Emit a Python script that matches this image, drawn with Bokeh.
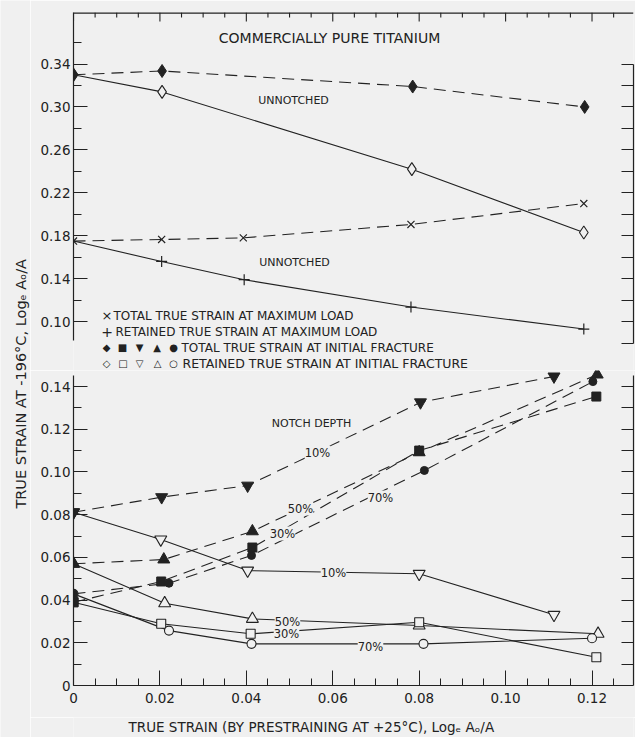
import math
from bokeh.plotting import figure
from bokeh.layouts import row, column
from bokeh.models import (Range1d, LinearAxis, FixedTicker,
                          Label, Span, CustomJSTickFormatter)
from bokeh.embed import file_html
from bokeh.resources import INLINE

# ---------------- data ----------------
# Upper panel: unnotched specimens
unn_x_total = [0.0, 0.0205, 0.0785, 0.1183]
unn_total_fracture = [0.330, 0.3335, 0.319, 0.300]
unn_x_ret = [0.0, 0.0205, 0.0783, 0.1181]
unn_retained_fracture = [0.330, 0.314, 0.242, 0.183]

maxload_x_total = [0.0, 0.0204, 0.0393, 0.0781, 0.1181]
maxload_total = [0.175, 0.1765, 0.178, 0.1905, 0.210]
maxload_x_ret = [0.0, 0.0204, 0.0395, 0.0781, 0.1181]
maxload_retained = [0.175, 0.156, 0.139, 0.1135, 0.093]

# Lower panel: notched specimens (notch depth 10, 30, 50, 70 %)
n10_x_total = [0.0, 0.0204, 0.0403, 0.0803, 0.1112]
n10_total = [0.0811, 0.0882, 0.0936, 0.1326, 0.1447]
n10_x_ret = [0.0, 0.0202, 0.0403, 0.0800, 0.1112]
n10_ret = [0.0811, 0.0684, 0.0538, 0.0523, 0.0331]

n50_x_total = [0.0, 0.0209, 0.0414, 0.0800, 0.1212]
n50_total = [0.0570, 0.0590, 0.0722, 0.1092, 0.1456]
n50_x_ret = [0.0, 0.0211, 0.0414, 0.0800, 0.1214]
n50_ret = [0.0570, 0.0385, 0.0312, 0.0281, 0.0242]

n30_x_total = [0.0, 0.0203, 0.0414, 0.0800, 0.1210]
n30_total = [0.0390, 0.0487, 0.0646, 0.1100, 0.1353]
n30_x_ret = [0.0, 0.0203, 0.0410, 0.0800, 0.1210]
n30_ret = [0.0390, 0.0289, 0.0242, 0.0296, 0.0132]

n70_x_total = [0.0, 0.0221, 0.0412, 0.0812, 0.1202]
n70_total = [0.0429, 0.0479, 0.0609, 0.1007, 0.1423]
n70_x_ret = [0.0, 0.0221, 0.0412, 0.0810, 0.1200]
n70_ret = [0.0429, 0.0257, 0.0195, 0.0195, 0.0221]

x_major_ticks = [0.0, 0.02, 0.04, 0.06, 0.08, 0.10, 0.12]
x_minor_ticks = [0.005, 0.010, 0.015, 0.025, 0.030, 0.035, 0.045, 0.050, 0.055,
                 0.065, 0.070, 0.075, 0.085, 0.090, 0.095, 0.105, 0.110, 0.115, 0.125]
top_ticks = [0.10, 0.14, 0.18, 0.22, 0.26, 0.30, 0.34]
top_minor = [0.12, 0.16, 0.20, 0.24, 0.28, 0.32, 0.36]
top_right_ticks = [0.08, 0.10, 0.12, 0.14, 0.16, 0.18, 0.20, 0.22, 0.24, 0.26, 0.28, 0.30, 0.32, 0.34]
bottom_ticks = [0.0, 0.02, 0.04, 0.06, 0.08, 0.10, 0.12, 0.14]
bottom_minor = [0.01, 0.03, 0.05, 0.07, 0.09, 0.11, 0.13]
bottom_right_ticks = [0.01, 0.02, 0.03, 0.04, 0.05, 0.06, 0.07, 0.08, 0.09, 0.10, 0.11, 0.12, 0.13, 0.14]

# ---------------- styling ----------------
BG = "#f0f0f0"
INK = "#222222"
FONT = "DejaVu Sans"
DASH = "12 7"
LW = 1.1
LEFT_W = 30          # width of the strip holding the vertical axis title
FX = 73              # page x of the frame's left edge
PW = 635 - LEFT_W    # width of the panel column
TOP_Y = 0.388        # value at the top edge of the upper panel

fmt = CustomJSTickFormatter(code="return tick == 0 ? '0' : tick.toFixed(2);")
blank = CustomJSTickFormatter(code="return '';")

xr = Range1d(0, 0.1296)


def plain_fig(width, height, xrange, yrange, left=0, right=0, top=0, bottom=0):
    f = figure(width=width, height=height, output_backend="svg", toolbar_location=None,
               x_range=xrange, y_range=yrange, x_axis_location=None, y_axis_location=None,
               min_border_left=left, min_border_right=right,
               min_border_top=top, min_border_bottom=bottom)
    f.background_fill_color = BG
    f.border_fill_color = BG
    f.outline_line_color = None
    f.grid.visible = False
    f.title.visible = False
    return f


def style_axis(ax):
    ax.axis_line_color = INK
    ax.major_tick_line_color = INK
    ax.minor_tick_line_color = INK
    ax.axis_line_width = 1.2
    ax.major_tick_out = 0
    ax.minor_tick_out = 0
    ax.major_label_text_font = FONT
    ax.major_label_text_font_size = "13.5px"
    ax.major_label_text_color = INK


def y_axes(f, ticks, minor, right_ticks, bounds, right_bounds):
    yl = LinearAxis(ticker=FixedTicker(ticks=ticks, minor_ticks=minor), formatter=fmt, bounds=bounds)
    style_axis(yl)
    yl.major_tick_in = 14
    yl.minor_tick_in = 8
    yl.major_label_standoff = 3
    f.add_layout(yl, "left")
    yr = LinearAxis(ticker=FixedTicker(ticks=right_ticks), formatter=blank, bounds=right_bounds)
    style_axis(yr)
    yr.major_tick_in = 12
    yr.major_label_standoff = 0
    f.add_layout(yr, "right")


# ---- upper panel (frame page y 12 .. 370) ----
top = plain_fig(PW, 370, xr, Range1d(0.0544, TOP_Y), left=FX - LEFT_W, right=2, top=12)
y_axes(top, top_ticks, top_minor, top_right_ticks, (0.0823, TOP_Y), (0.08, 0.34))
# top edge with downward ticks
top.add_layout(Span(location=TOP_Y, dimension="width", line_color=INK, line_width=2.4))
top.ray(x=x_major_ticks, y=[TOP_Y] * len(x_major_ticks), length=9, length_units="screen",
        angle=-math.pi / 2, line_color=INK, line_width=1.1)
top.ray(x=x_minor_ticks, y=[TOP_Y] * len(x_minor_ticks), length=5, length_units="screen",
        angle=-math.pi / 2, line_color=INK, line_width=1.1)

# ---- lower panel (frame page y 370 .. 685) ----
bot = plain_fig(PW, 347, xr, Range1d(0, 0.1475), left=FX - LEFT_W, right=2, bottom=32)
xb = LinearAxis(ticker=FixedTicker(ticks=x_major_ticks, minor_ticks=x_minor_ticks), formatter=fmt)
style_axis(xb)
xb.major_tick_in = 15
xb.minor_tick_in = 7
xb.major_label_standoff = 7
bot.add_layout(xb, "below")
y_axes(bot, bottom_ticks, bottom_minor, bottom_right_ticks, (0, 0.1452), (0, 0.1452))


# ---------------- lines & markers ----------------
def dashed(f, x, y):
    f.line(x, y, line_color=INK, line_width=LW, line_dash=DASH)


def solid(f, x, y):
    f.line(x, y, line_color=INK, line_width=LW)


def open_m(f, x, y, marker, size):
    f.scatter(x, y, marker=marker, size=size, fill_color=BG, line_color=INK, line_width=1.1)


def filled_m(f, x, y, marker, size):
    f.scatter(x, y, marker=marker, size=size, fill_color=INK, line_color=INK, line_width=1.0)


dashed(top, unn_x_total, unn_total_fracture)
solid(top, unn_x_ret, unn_retained_fracture)
dashed(top, maxload_x_total, maxload_total)
solid(top, maxload_x_ret, maxload_retained)
open_m(top, unn_x_ret, unn_retained_fracture, "diamond", 13)
filled_m(top, unn_x_total, unn_total_fracture, "diamond", 13)
top.scatter(maxload_x_total, maxload_total, marker="x", size=10, line_color=INK, line_width=1.2)
top.scatter(maxload_x_ret[1:], maxload_retained[1:], marker="cross", size=11,
            line_color=INK, line_width=1.2)

for xt_, yt_, xr_, yr_ in [(n10_x_total, n10_total, n10_x_ret, n10_ret),
                           (n50_x_total, n50_total, n50_x_ret, n50_ret),
                           (n30_x_total, n30_total, n30_x_ret, n30_ret),
                           (n70_x_total, n70_total, n70_x_ret, n70_ret)]:
    dashed(bot, xt_, yt_)
    solid(bot, xr_, yr_)

open_m(bot, n10_x_ret, n10_ret, "inverted_triangle", 12)
open_m(bot, n50_x_ret, n50_ret, "triangle", 12)
open_m(bot, n30_x_ret, n30_ret, "square", 9)
open_m(bot, n70_x_ret, n70_ret, "circle", 9)
filled_m(bot, n10_x_total, n10_total, "inverted_triangle", 12)
filled_m(bot, n50_x_total, n50_total, "triangle", 12)
filled_m(bot, n30_x_total, n30_total, "square", 9)
filled_m(bot, n70_x_total, n70_total, "circle", 8)


# ---------------- texts ----------------
def txt(f, fy, s, cx, cy, size="11px", align="center", bg=None, fx=FX, angle=0.0):
    lab = Label(x=cx - fx, y=fy - cy, x_units="screen", y_units="screen", text=s,
                text_font=FONT, text_font_size=size, text_color=INK,
                text_align=align, text_baseline="middle", angle=angle)
    if bg is not None:
        lab.background_fill_color = bg
    f.add_layout(lab)


T = lambda *a, **k: txt(top, 370, *a, **k)
B = lambda *a, **k: txt(bot, 685, *a, **k)

T("COMMERCIALLY PURE TITANIUM", 329, 37, "14px")
T("UNNOTCHED", 293, 100, "11px")
T("UNNOTCHED", 294, 262, "11px")

# legend
T("\u00d7", 106.5, 315, "13px")
T("TOTAL TRUE STRAIN AT MAXIMUM LOAD", 113, 315, "12px", align="left")
T("+", 106.5, 331.5, "14px")
T("RETAINED TRUE STRAIN AT MAXIMUM LOAD", 115, 331.5, "12px", align="left")
for sym, cx in zip(["\u25c6", "\u25a0", "\u25bc", "\u25b2", "\u25cf"], [106, 122, 139, 156.5, 173]):
    T(sym, cx, 347, "10px")
T("TOTAL TRUE STRAIN AT INITIAL FRACTURE", 181, 347, "12px", align="left")
for sym, cx in zip(["\u25c7", "\u25a1", "\u25bd", "\u25b3", "\u25cb"], [106, 122.5, 139, 157, 173]):
    T(sym, cx, 363, "10px")
T("RETAINED TRUE STRAIN AT INITIAL FRACTURE", 182, 363, "12.5px", align="left")

B("NOTCH DEPTH", 311, 423, "11px")
B("10%", 317, 452, "11.5px", bg=BG)
B("50%", 300, 508, "11.5px", bg=BG)
B("30%", 282, 533, "11.5px", bg=BG)
B("70%", 380, 497, "11.5px", bg=BG)
B("10%", 333, 572, "11.5px", bg=BG)
B("50%", 287, 621, "11.5px", bg=BG)
B("30%", 286, 633, "11.5px", bg=BG)
B("70%", 370, 646, "11.5px", bg=BG)

# ---- strip under the panels holding the x axis title (page y 717 .. 737) ----
xstrip = plain_fig(PW, 20, Range1d(0, 1), Range1d(0, 1))
txt(xstrip, 737, "TRUE STRAIN (BY PRESTRAINING AT +25\u00b0C),  Log\u2091 A\u2092/A",
    128, 726.5, "13.5px", align="left", fx=FX)

# ---- strip on the left holding the vertical axis title ----
side = plain_fig(LEFT_W, 737, Range1d(0, 1), Range1d(0, 1))
txt(side, 737, "TRUE STRAIN AT -196\u00b0C,  Log\u2091 A\u2092/A", 20, 381, "14.5px",
    fx=0, angle=math.pi / 2)

layout = row(side, column(top, bot, xstrip, spacing=0), spacing=0)
open("out.html", "w").write(file_html(layout, INLINE))
